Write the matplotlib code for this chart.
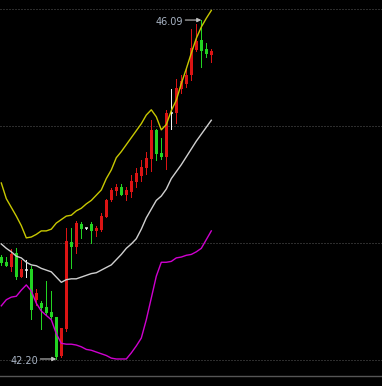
import numpy as np
import matplotlib
matplotlib.use('Agg')
from matplotlib import pyplot as plt

# daily candles, oldest first
opens = [43.37, 43.31, 43.26, 43.42, 43.14, 43.22, 43.23, 42.88, 42.84, 42.80,
         42.74, 42.68, 42.23, 42.54, 43.54, 43.49, 43.75, 43.70, 43.75, 43.67,
         43.68, 43.83, 44.02, 44.13, 44.17, 44.08, 44.12, 44.23, 44.30, 44.39,
         44.49, 44.83, 44.56, 44.52, 45.02, 45.02, 45.30, 45.36, 45.46, 45.75,
         45.86, 45.76, 45.69]
highs = [43.39, 43.37, 43.46, 43.47, 43.34, 43.34, 43.27, 43.00, 42.87, 43.10,
         42.98, 42.68, 42.56, 43.70, 43.70, 43.78, 43.77, 43.70, 43.77, 43.73,
         43.88, 44.04, 44.16, 44.21, 44.21, 44.17, 44.31, 44.39, 44.48, 44.58,
         44.94, 44.84, 44.74, 45.06, 45.30, 45.41, 45.46, 45.54, 45.99, 46.04,
         46.09, 45.83, 45.76]
lows = [43.28, 43.27, 43.21, 43.12, 43.14, 43.14, 42.66, 42.82, 42.54, 42.72,
        42.67, 42.20, 42.22, 42.52, 43.24, 43.42, 43.59, 43.69, 43.53, 43.61,
        43.67, 43.83, 44.01, 44.08, 44.08, 44.02, 44.06, 44.17, 44.24, 44.32,
        44.36, 44.48, 44.49, 44.38, 44.84, 44.91, 45.25, 45.32, 45.40, 45.73,
        45.55, 45.67, 45.61]
closes = [43.30, 43.27, 43.40, 43.14, 43.23, 43.22, 42.76, 42.96, 42.79, 42.73,
          42.68, 42.22, 42.56, 43.55, 43.49, 43.76, 43.69, 43.70, 43.67, 43.70,
          43.84, 44.02, 44.14, 44.17, 44.08, 44.14, 44.24, 44.33, 44.40, 44.51,
          44.83, 44.55, 44.52, 45.02, 45.02, 45.31, 45.39, 45.46, 45.77, 45.85,
          45.73, 45.70, 45.73]

# band lines
upper = [44.22, 44.04, 43.94, 43.84, 43.73, 43.59, 43.60, 43.63, 43.67, 43.67,
         43.69, 43.76, 43.80, 43.84, 43.85, 43.90, 43.93, 43.98, 44.02, 44.08,
         44.14, 44.27, 44.37, 44.51, 44.58, 44.66, 44.74, 44.82, 44.90, 45.00,
         45.06, 44.98, 44.83, 44.89, 45.05, 45.17, 45.36, 45.53, 45.71, 45.88,
         46.01, 46.11, 46.20]
middle = [43.52, 43.47, 43.43, 43.38, 43.36, 43.31, 43.28, 43.27, 43.24, 43.22,
          43.20, 43.14, 43.08, 43.11, 43.12, 43.12, 43.14, 43.16, 43.18, 43.19,
          43.22, 43.25, 43.28, 43.34, 43.40, 43.47, 43.52, 43.58, 43.69, 43.82,
          43.92, 44.02, 44.07, 44.15, 44.27, 44.35, 44.43, 44.52, 44.61, 44.70,
          44.78, 44.86, 44.94]
lower = [42.81, 42.88, 42.91, 42.92, 42.99, 43.05, 42.98, 42.84, 42.75, 42.70,
         42.65, 42.49, 42.38, 42.37, 42.37, 42.36, 42.34, 42.31, 42.30, 42.28,
         42.26, 42.24, 42.21, 42.20, 42.20, 42.20, 42.27, 42.35, 42.44, 42.65,
         42.90, 43.15, 43.31, 43.31, 43.32, 43.36, 43.37, 43.39, 43.40, 43.43,
         43.47, 43.57, 43.67]

grid_levels = [46.22, 44.87, 43.53, 42.19]

RED = '#dc1414'
GREEN = '#22d422'
WHITE = '#f0f0f0'

fig = plt.figure(figsize=(3.82, 3.86), dpi=100, facecolor='black')
ax = fig.add_axes([0, 0, 1, 1])
ax.set_facecolor('black')
ax.set_xlim(-0.26, 76.14)
ax.set_ylim(41.89, 46.32)
ax.axis('off')

# dotted price grid and the panel separator
for lvl in grid_levels:
    ax.axhline(lvl, color='#5a5a5a', lw=0.72, ls=(0, (1, 2)), zorder=1)
ax.axhline(42.005, color='#555555', lw=1.0, zorder=1)

x = np.arange(len(opens))
o = np.array(opens)
c = np.array(closes)
colors = np.where(c > o, RED, np.where(c < o, GREEN, WHITE))

ax.vlines(x, lows, highs, colors=colors, lw=0.72, zorder=2, antialiased=False)
bottom = np.minimum(o, c)
height = np.abs(c - o)
ax.bar(x, height, bottom=bottom, width=0.6, color=colors, lw=0, zorder=3,
       antialiased=False)
# flat candles drawn as a short dash
flat = height == 0
ax.hlines(o[flat], x[flat] - 0.3, x[flat] + 0.3, colors=WHITE, lw=1.1, zorder=3)

ax.plot(x, upper, color='#c8c800', lw=1.0, zorder=4)
ax.plot(x, middle, color='#d0d0d0', lw=1.0, zorder=4)
ax.plot(x, lower, color='#d000d0', lw=1.0, zorder=4)

# high / low markers
hi_i = int(np.argmax(highs))
lo_i = int(np.argmin(lows))
txt_color = '#a8b4c4'
arrow = dict(arrowstyle='-|>', color='#c0c0c0', lw=0.8, shrinkA=0, shrinkB=0,
             mutation_scale=6)
ax.annotate('', xy=(hi_i, highs[hi_i]), xytext=(-16, 0),
            textcoords='offset pixels', xycoords='data', arrowprops=arrow)
ax.annotate('', xy=(lo_i, lows[lo_i]), xytext=(-16, 0),
            textcoords='offset pixels', xycoords='data', arrowprops=arrow)
ax.annotate('%.2f' % highs[hi_i], xy=(hi_i, highs[hi_i]), xytext=(-18, -2),
            textcoords='offset pixels', ha='right', va='center',
            color=txt_color, fontsize=7)
ax.annotate('%.2f' % lows[lo_i], xy=(lo_i, lows[lo_i]), xytext=(-18, -2),
            textcoords='offset pixels', ha='right', va='center',
            color=txt_color, fontsize=7)

fig.savefig('out.png', dpi=100, facecolor='black')
